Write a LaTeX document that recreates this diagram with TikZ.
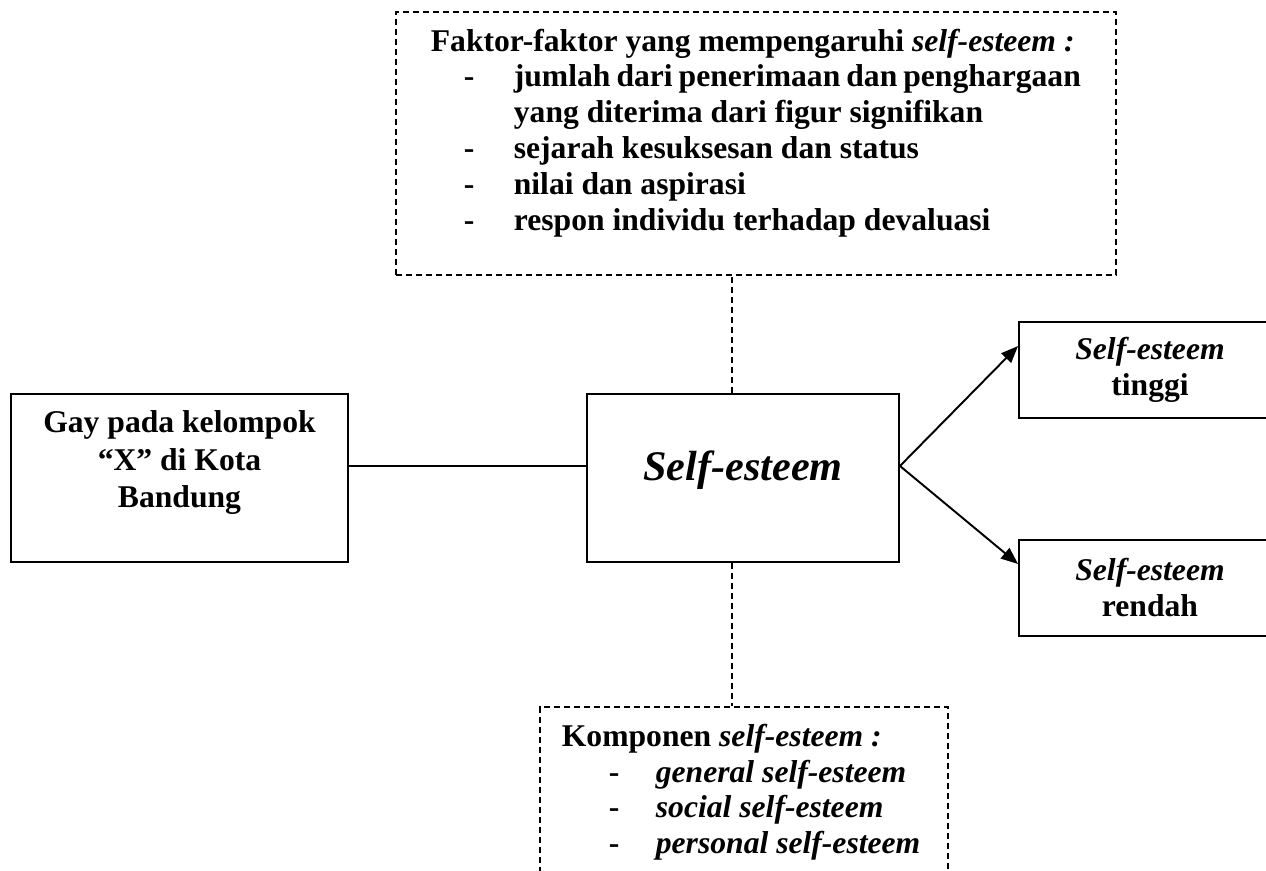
\documentclass[tikz,border=0pt]{standalone}
\usepackage{fontspec}
\setmainfont{Liberation Serif}
\usepackage{tikz}
\usetikzlibrary{arrows.meta,positioning}
\newcommand{\dashitem}[2]{\hspace*{#1}\makebox[#2][l]{-}}

\begin{document}
\begin{tikzpicture}[>={Triangle[length=3.4mm,width=2.7mm]},
  solidbox/.style={draw, line width=1.1pt, align=center,
    font=\fontsize{18}{20.4}\selectfont\bfseries},
  dashbox/.style={draw, dash pattern=on 0.12cm off 0.08cm, line width=1pt,
    font=\fontsize{18}{20.4}\selectfont\bfseries},
  link/.style={line width=1.1pt},
  dashlink/.style={line width=1pt, dash pattern=on 0.12cm off 0.08cm}]
% page frame
\useasboundingbox (0,0) rectangle (25.32,-17.42);
\clip (0,0) rectangle (25.32,-17.42);

% factors box on top
\node[dashbox, anchor=north west, inner xsep=0.7cm, inner ysep=0.34cm] (factbox) at (7.9,-0.22)
  {\begin{minipage}[t][4.58cm][t]{13cm}
    Faktor-faktor yang mempengaruhi \textit{self-esteem :}\\
    \dashitem{0.66cm}{1cm}jumlah dari penerimaan dan penghargaan\\
    \hspace*{1.66cm}yang diterima dari figur signifikan\\
    \dashitem{0.66cm}{1cm}sejarah kesuksesan dan status\\
    \dashitem{0.66cm}{1cm}nilai dan aspirasi\\
    \dashitem{0.66cm}{1cm}respon individu terhadap devaluasi
  \end{minipage}};

% main boxes
\node[solidbox, minimum width=6.74cm, minimum height=3.36cm,
  font=\fontsize{18}{21.3}\selectfont\bfseries] (gaybox) at (3.59,-9.56)
  {Gay pada kelompok\\``X'' di Kota\\Bandung\\ \mbox{}};
\node[solidbox, minimum width=6.24cm, minimum height=3.36cm, text depth=0.5cm,
  font=\fontsize{24}{28}\selectfont\bfseries\itshape] (sebox) at (14.86,-9.56) {Self-esteem};

% outcome boxes
\node[solidbox, minimum width=5.24cm, minimum height=1.92cm] (hibox) at (23.0,-7.4)
  {\textit{Self-esteem}\\tinggi};
\node[solidbox, minimum width=5.24cm, minimum height=1.92cm, below=2.4cm of hibox] (lobox)
  {\textit{Self-esteem}\\rendah};

% components box at the bottom
\node[dashbox, anchor=north west, inner xsep=0.44cm, inner ysep=0.34cm] (compbox) at (10.78,-14.12)
  {\begin{minipage}[t][3.6cm][t]{7.28cm}
    Komponen \textit{self-esteem :}\\
    \dashitem{0.94cm}{0.94cm}\textit{general self-esteem}\\
    \dashitem{0.94cm}{0.94cm}\textit{social self-esteem}\\
    \dashitem{0.94cm}{0.94cm}\textit{personal self-esteem}
  \end{minipage}};

% connectors
\draw[link] ([yshift=0.24cm]gaybox.east) -- ([yshift=0.24cm]sebox.west);
\draw[link, ->] ([yshift=0.24cm]sebox.east) -- ([yshift=-0.5cm]hibox.north west);
\draw[link, ->] ([yshift=0.24cm]sebox.east) -- ([yshift=-0.5cm]lobox.north west);
\draw[dashlink] ([xshift=-0.22cm]sebox.north) -- ([xshift=-0.22cm]sebox.north |- factbox.south);
\draw[dashlink] ([xshift=-0.22cm]sebox.south) -- ([xshift=-0.22cm]sebox.south |- compbox.north);
\end{tikzpicture}
\end{document}
